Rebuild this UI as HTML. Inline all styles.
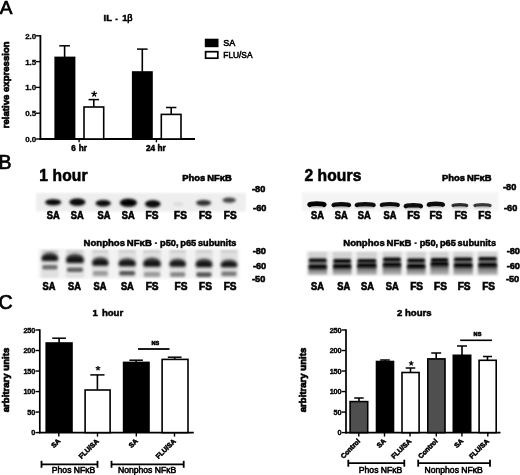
<!DOCTYPE html>
<html><head><meta charset="utf-8"><style>
html,body{margin:0;padding:0;background:#fff;width:520px;height:475px;overflow:hidden}
svg{display:block;font-family:"Liberation Sans", sans-serif}
</style></head><body>
<svg width="520" height="475" viewBox="0 0 520 475">
<defs><filter id="gb" x="0" y="0" width="100%" height="100%" filterUnits="userSpaceOnUse"><feGaussianBlur stdDeviation="0.3"/></filter></defs>
<rect x="0" y="0" width="520" height="475" fill="#fff"/>
<g filter="url(#gb)">
<rect x="0" y="0" width="520" height="475" fill="#fff"/>
<text x="-0.3" y="13.6" font-size="19" font-weight="normal" text-anchor="start" stroke="#000" stroke-width="0.7" >A</text>
<text x="103.6" y="21.4" font-size="9.4" font-weight="bold" text-anchor="start" stroke="#000" stroke-width="0.5" >IL</text>
<rect x="115.4" y="18.6" width="2.3" height="1.6" fill="#000"/>
<text x="122.3" y="21.4" font-size="9.4" font-weight="bold" text-anchor="start" stroke="#000" stroke-width="0.5" >1</text>
<text x="127.3" y="21.4" font-size="9.1" font-weight="normal" text-anchor="start" stroke="#000" stroke-width="0.65" >&#946;</text>
<line x1="40.4" y1="35.099999999999994" x2="40.4" y2="139.9" stroke="#000" stroke-width="1.8"/>
<line x1="39.5" y1="139.0" x2="195.0" y2="139.0" stroke="#000" stroke-width="1.8"/>
<line x1="36.0" y1="139.0" x2="40.4" y2="139.0" stroke="#000" stroke-width="1.4"/>
<text x="36.1" y="142.0" font-size="8.0" font-weight="bold" text-anchor="end" stroke="#000" stroke-width="0.30000000000000004" letter-spacing="-0.1" >0.0</text>
<line x1="36.0" y1="113.2" x2="40.4" y2="113.2" stroke="#000" stroke-width="1.4"/>
<text x="36.1" y="116.2" font-size="8.0" font-weight="bold" text-anchor="end" stroke="#000" stroke-width="0.30000000000000004" letter-spacing="-0.1" >0.5</text>
<line x1="36.0" y1="87.4" x2="40.4" y2="87.4" stroke="#000" stroke-width="1.4"/>
<text x="36.1" y="90.4" font-size="8.0" font-weight="bold" text-anchor="end" stroke="#000" stroke-width="0.30000000000000004" letter-spacing="-0.1" >1.0</text>
<line x1="36.0" y1="61.599999999999994" x2="40.4" y2="61.599999999999994" stroke="#000" stroke-width="1.4"/>
<text x="36.1" y="64.6" font-size="8.0" font-weight="bold" text-anchor="end" stroke="#000" stroke-width="0.30000000000000004" letter-spacing="-0.1" >1.5</text>
<line x1="36.0" y1="35.8" x2="40.4" y2="35.8" stroke="#000" stroke-width="1.4"/>
<text x="36.1" y="38.8" font-size="8.0" font-weight="bold" text-anchor="end" stroke="#000" stroke-width="0.30000000000000004" letter-spacing="-0.1" >2.0</text>
<line x1="64.6" y1="45.8" x2="64.6" y2="57.1" stroke="#000" stroke-width="1.6"/>
<line x1="59.3" y1="45.8" x2="69.89999999999999" y2="45.8" stroke="#000" stroke-width="1.5"/>
<rect x="54.4" y="56.6" width="21.000000000000007" height="82.4" fill="#000"/>
<line x1="93.8" y1="99.6" x2="93.8" y2="106.7" stroke="#000" stroke-width="1.6"/>
<line x1="88.55" y1="99.6" x2="99.05" y2="99.6" stroke="#000" stroke-width="1.5"/>
<rect x="84.0" y="107.0" width="19.699999999999996" height="31.999999999999996" fill="#fff" stroke="#000" stroke-width="1.6"/>
<line x1="142.3" y1="49.1" x2="142.3" y2="71.7" stroke="#000" stroke-width="1.6"/>
<line x1="137.0" y1="49.1" x2="147.60000000000002" y2="49.1" stroke="#000" stroke-width="1.5"/>
<rect x="131.9" y="71.2" width="20.900000000000006" height="67.8" fill="#000"/>
<line x1="171.2" y1="107.5" x2="171.2" y2="114.1" stroke="#000" stroke-width="1.6"/>
<line x1="166.0" y1="107.5" x2="176.39999999999998" y2="107.5" stroke="#000" stroke-width="1.5"/>
<rect x="161.3" y="114.39999999999999" width="19.70000000000001" height="24.600000000000005" fill="#fff" stroke="#000" stroke-width="1.6"/>
<path d="M94.20 94.00L94.20 91.50M94.20 94.00L96.58 93.23M94.20 94.00L95.67 96.02M94.20 94.00L92.73 96.02M94.20 94.00L91.82 93.23" stroke="#000" stroke-width="1.3" stroke-linecap="round" fill="none"/>
<line x1="79.1" y1="139.0" x2="79.1" y2="142.3" stroke="#000" stroke-width="1.4"/>
<line x1="156.4" y1="139.0" x2="156.4" y2="142.3" stroke="#000" stroke-width="1.4"/>
<text x="71.3" y="150.7" font-size="8.2" font-weight="bold" text-anchor="start" stroke="#000" stroke-width="0.5" word-spacing="0.7">6 hr</text>
<text x="145.9" y="150.7" font-size="8.2" font-weight="bold" text-anchor="start" stroke="#000" stroke-width="0.5" word-spacing="0.3">24 hr</text>
<text x="0" y="0" font-size="9.6" font-weight="bold" text-anchor="middle" stroke="#000" stroke-width="0.7" transform="translate(8.7 84.8) rotate(-90)">relative expression</text>
<rect x="204.8" y="38.7" width="13.7" height="8.5" fill="#000"/>
<rect x="205.6" y="51.7" width="12.2" height="6.5" fill="#fff" stroke="#000" stroke-width="1.7"/>
<text x="223.2" y="45.8" font-size="9" font-weight="normal" text-anchor="start" stroke="#000" stroke-width="0.55" >SA</text>
<text x="223.3" y="58.1" font-size="9" font-weight="normal" text-anchor="start" stroke="#000" stroke-width="0.55" textLength="29.2" lengthAdjust="spacingAndGlyphs" >FLU/SA</text>
<text x="-1.5" y="169" font-size="19.5" font-weight="normal" text-anchor="start" stroke="#000" stroke-width="0.7" >B</text>
<text x="39.2" y="181" font-size="15.6" font-weight="bold" text-anchor="start" stroke="#000" stroke-width="0.55" letter-spacing="0.15" >1 hour</text>
<text x="304.4" y="181" font-size="15.6" font-weight="bold" text-anchor="start" stroke="#000" stroke-width="0.55" letter-spacing="0.1" >2 hours</text>
<text x="182.2" y="180.8" font-size="9.7" font-weight="bold" text-anchor="start" stroke="#000" stroke-width="0.6000000000000001" textLength="49.6" lengthAdjust="spacingAndGlyphs" word-spacing="-0.6">Phos NF&#954;B</text>
<text x="442.0" y="180.8" font-size="9.7" font-weight="bold" text-anchor="start" stroke="#000" stroke-width="0.6000000000000001" textLength="49.6" lengthAdjust="spacingAndGlyphs" word-spacing="-0.6">Phos NF&#954;B</text>
<text x="83.6" y="245.8" font-size="9.3" font-weight="bold" text-anchor="start" stroke="#000" stroke-width="0.5" textLength="68.2" lengthAdjust="spacingAndGlyphs" word-spacing="-0.8">Nonphos NF&#954;B</text>
<rect x="154.8" y="242.4" width="2.2" height="1.4" fill="#000"/>
<text x="160.0" y="245.8" font-size="9.3" font-weight="bold" text-anchor="start" stroke="#000" stroke-width="0.5" textLength="76.4" lengthAdjust="spacingAndGlyphs" word-spacing="-0.8">p50, p65 subunits</text>
<text x="343.29999999999995" y="245.8" font-size="9.3" font-weight="bold" text-anchor="start" stroke="#000" stroke-width="0.5" textLength="68.2" lengthAdjust="spacingAndGlyphs" word-spacing="-0.8">Nonphos NF&#954;B</text>
<rect x="414.5" y="242.4" width="2.2" height="1.4" fill="#000"/>
<text x="419.7" y="245.8" font-size="9.3" font-weight="bold" text-anchor="start" stroke="#000" stroke-width="0.5" textLength="76.4" lengthAdjust="spacingAndGlyphs" word-spacing="-0.8">p50, p65 subunits</text>
<text x="252.0" y="191.6" font-size="9.2" font-weight="bold" text-anchor="start" stroke="#000" stroke-width="0.55" >-80</text>
<text x="253.1" y="211.4" font-size="9.2" font-weight="bold" text-anchor="start" stroke="#000" stroke-width="0.55" >-60</text>
<text x="503.0" y="190.3" font-size="9.2" font-weight="bold" text-anchor="start" stroke="#000" stroke-width="0.55" >-80</text>
<text x="504.0" y="211.4" font-size="9.2" font-weight="bold" text-anchor="start" stroke="#000" stroke-width="0.55" >-60</text>
<text x="252.7" y="254.0" font-size="9.2" font-weight="bold" text-anchor="start" stroke="#000" stroke-width="0.55" >-80</text>
<text x="252.89999999999998" y="269.2" font-size="9.2" font-weight="bold" text-anchor="start" stroke="#000" stroke-width="0.55" >-60</text>
<text x="252.0" y="281.6" font-size="9.2" font-weight="bold" text-anchor="start" stroke="#000" stroke-width="0.55" >-50</text>
<text x="506.7" y="253.7" font-size="9.2" font-weight="bold" text-anchor="start" stroke="#000" stroke-width="0.55" >-80</text>
<text x="506.7" y="268.8" font-size="9.2" font-weight="bold" text-anchor="start" stroke="#000" stroke-width="0.55" >-60</text>
<text x="505.9" y="281.8" font-size="9.2" font-weight="bold" text-anchor="start" stroke="#000" stroke-width="0.55" >-50</text>
<defs><filter id="b1" filterUnits="userSpaceOnUse" x="0" y="0" width="520" height="475"><feGaussianBlur stdDeviation="1.3"/></filter><filter id="b15" filterUnits="userSpaceOnUse" x="0" y="0" width="520" height="475"><feGaussianBlur stdDeviation="1.6"/></filter><filter id="b06" filterUnits="userSpaceOnUse" x="0" y="0" width="520" height="475"><feGaussianBlur stdDeviation="0.6"/></filter><filter id="b2" filterUnits="userSpaceOnUse" x="0" y="0" width="520" height="475"><feGaussianBlur stdDeviation="0.8"/></filter><filter id="bs" filterUnits="userSpaceOnUse" x="0" y="0" width="520" height="475"><feGaussianBlur stdDeviation="1.0"/></filter><filter id="bl" filterUnits="userSpaceOnUse" x="0" y="0" width="520" height="475"><feGaussianBlur stdDeviation="1.5"/></filter></defs>
<rect x="36" y="193" width="210" height="18.5" fill="#eeeeee" filter="url(#bs)"/>
<ellipse cx="53.2" cy="202.5" rx="8.5" ry="3.8" fill="#000" opacity="0.33249999999999996" filter="url(#b15)"/>
<ellipse cx="53.2" cy="202.2" rx="7.7" ry="2.8000000000000003" fill="#000" opacity="0.95" filter="url(#b1)"/>
<ellipse cx="77.4" cy="202.4" rx="8.5" ry="4.4" fill="#000" opacity="0.33249999999999996" filter="url(#b15)"/>
<ellipse cx="77.4" cy="202.1" rx="7.7" ry="3.4000000000000004" fill="#000" opacity="0.95" filter="url(#b1)"/>
<ellipse cx="103.2" cy="203.5" rx="8.0" ry="4.0" fill="#000" opacity="0.322" filter="url(#b15)"/>
<ellipse cx="103.2" cy="203.2" rx="7.2" ry="3.0" fill="#000" opacity="0.92" filter="url(#b1)"/>
<ellipse cx="128.4" cy="203.0" rx="9.0" ry="4.8" fill="#000" opacity="0.33949999999999997" filter="url(#b15)"/>
<ellipse cx="128.4" cy="202.7" rx="8.2" ry="3.8000000000000003" fill="#000" opacity="0.97" filter="url(#b1)"/>
<ellipse cx="152.8" cy="204.2" rx="8.2" ry="4.4" fill="#000" opacity="0.33249999999999996" filter="url(#b15)"/>
<ellipse cx="152.8" cy="203.9" rx="7.4" ry="3.4000000000000004" fill="#000" opacity="0.95" filter="url(#b1)"/>
<ellipse cx="178.2" cy="204.2" rx="6.0" ry="3.0" fill="#000" opacity="0.017499999999999998" filter="url(#b15)"/>
<ellipse cx="178.2" cy="203.9" rx="5.2" ry="2.0" fill="#000" opacity="0.05" filter="url(#b1)"/>
<ellipse cx="203.6" cy="203.1" rx="8.0" ry="3.5999999999999996" fill="#000" opacity="0.252" filter="url(#b15)"/>
<ellipse cx="203.6" cy="202.8" rx="7.2" ry="2.6" fill="#000" opacity="0.72" filter="url(#b1)"/>
<ellipse cx="229.2" cy="200.4" rx="7.2" ry="3.4000000000000004" fill="#000" opacity="0.217" filter="url(#b15)"/>
<ellipse cx="229.2" cy="200.1" rx="6.4" ry="2.4000000000000004" fill="#000" opacity="0.62" filter="url(#b1)"/>
<text x="53.15" y="219.0" font-size="10.4" font-weight="bold" text-anchor="middle" stroke="#000" stroke-width="0.65" textLength="12.9" lengthAdjust="spacingAndGlyphs" >SA</text>
<text x="77.3" y="219.0" font-size="10.4" font-weight="bold" text-anchor="middle" stroke="#000" stroke-width="0.65" textLength="12.9" lengthAdjust="spacingAndGlyphs" >SA</text>
<text x="103.95" y="219.0" font-size="10.4" font-weight="bold" text-anchor="middle" stroke="#000" stroke-width="0.65" textLength="12.9" lengthAdjust="spacingAndGlyphs" >SA</text>
<text x="128.15" y="219.0" font-size="10.4" font-weight="bold" text-anchor="middle" stroke="#000" stroke-width="0.65" textLength="12.9" lengthAdjust="spacingAndGlyphs" >SA</text>
<text x="152.05" y="219.0" font-size="10.4" font-weight="bold" text-anchor="middle" stroke="#000" stroke-width="0.65" textLength="12.9" lengthAdjust="spacingAndGlyphs" >FS</text>
<text x="180.55" y="219.0" font-size="10.4" font-weight="bold" text-anchor="middle" stroke="#000" stroke-width="0.65" textLength="12.9" lengthAdjust="spacingAndGlyphs" >FS</text>
<text x="205.35" y="219.0" font-size="10.4" font-weight="bold" text-anchor="middle" stroke="#000" stroke-width="0.65" textLength="12.9" lengthAdjust="spacingAndGlyphs" >FS</text>
<text x="230.2" y="219.0" font-size="10.4" font-weight="bold" text-anchor="middle" stroke="#000" stroke-width="0.65" textLength="12.9" lengthAdjust="spacingAndGlyphs" >FS</text>
<rect x="302" y="192.2" width="196.5" height="18.8" fill="#f4f4f4" filter="url(#bs)"/>
<path d="M309.6 204.6 C310.4 203.4 323.4 203.4 324.2 204.6" stroke="#000" stroke-width="4.8" stroke-linecap="round" fill="none" opacity="0.98" filter="url(#b06)"/>
<rect x="309.3" y="203.8" width="15.2" height="3.2" fill="#000" opacity="0.39" filter="url(#b1)"/>
<path d="M333.5 205.1 C334.3 203.9 348.3 203.9 349.1 205.1" stroke="#000" stroke-width="4.2" stroke-linecap="round" fill="none" opacity="0.96" filter="url(#b06)"/>
<rect x="333.2" y="204.3" width="16.2" height="3.2" fill="#000" opacity="0.38" filter="url(#b1)"/>
<path d="M356.7 205.1 C357.5 203.9 372.9 203.9 373.7 205.1" stroke="#000" stroke-width="4.2" stroke-linecap="round" fill="none" opacity="0.94" filter="url(#b06)"/>
<rect x="356.4" y="204.3" width="17.6" height="3.2" fill="#000" opacity="0.38" filter="url(#b1)"/>
<path d="M381.8 204.9 C382.6 203.7 397.0 203.7 397.8 204.9" stroke="#000" stroke-width="4.2" stroke-linecap="round" fill="none" opacity="0.94" filter="url(#b06)"/>
<rect x="381.5" y="204.1" width="16.6" height="3.2" fill="#000" opacity="0.38" filter="url(#b1)"/>
<path d="M405.8 206.1 C406.6 204.9 420.1 204.9 420.9 206.1" stroke="#000" stroke-width="4.4" stroke-linecap="round" fill="none" opacity="0.95" filter="url(#b06)"/>
<rect x="405.4" y="205.3" width="15.7" height="3.2" fill="#000" opacity="0.38" filter="url(#b1)"/>
<path d="M428.8 204.7 C429.6 203.5 442.1 203.5 442.9 204.7" stroke="#000" stroke-width="4.4" stroke-linecap="round" fill="none" opacity="0.93" filter="url(#b06)"/>
<rect x="428.5" y="203.9" width="14.7" height="3.2" fill="#000" opacity="0.37" filter="url(#b1)"/>
<path d="M453.1 205.5 C453.9 204.3 465.9 204.3 466.7 205.5" stroke="#000" stroke-width="3.3" stroke-linecap="round" fill="none" opacity="0.78" filter="url(#b06)"/>
<rect x="452.8" y="204.7" width="14.2" height="3.2" fill="#000" opacity="0.31" filter="url(#b1)"/>
<path d="M475.0 205.5 C475.8 204.3 489.2 204.3 490.0 205.5" stroke="#000" stroke-width="3.3" stroke-linecap="round" fill="none" opacity="0.72" filter="url(#b06)"/>
<rect x="474.7" y="204.7" width="15.6" height="3.2" fill="#000" opacity="0.29" filter="url(#b1)"/>
<text x="317.5" y="219.0" font-size="10.4" font-weight="bold" text-anchor="middle" stroke="#000" stroke-width="0.65" textLength="12.9" lengthAdjust="spacingAndGlyphs" >SA</text>
<text x="341.25" y="219.0" font-size="10.4" font-weight="bold" text-anchor="middle" stroke="#000" stroke-width="0.65" textLength="12.9" lengthAdjust="spacingAndGlyphs" >SA</text>
<text x="364.15" y="219.0" font-size="10.4" font-weight="bold" text-anchor="middle" stroke="#000" stroke-width="0.65" textLength="12.9" lengthAdjust="spacingAndGlyphs" >SA</text>
<text x="390.05" y="219.0" font-size="10.4" font-weight="bold" text-anchor="middle" stroke="#000" stroke-width="0.65" textLength="12.9" lengthAdjust="spacingAndGlyphs" >SA</text>
<text x="413.65" y="219.0" font-size="10.4" font-weight="bold" text-anchor="middle" stroke="#000" stroke-width="0.65" textLength="12.9" lengthAdjust="spacingAndGlyphs" >FS</text>
<text x="435.85" y="219.0" font-size="10.4" font-weight="bold" text-anchor="middle" stroke="#000" stroke-width="0.65" textLength="12.9" lengthAdjust="spacingAndGlyphs" >FS</text>
<text x="460.85" y="219.0" font-size="10.4" font-weight="bold" text-anchor="middle" stroke="#000" stroke-width="0.65" textLength="12.9" lengthAdjust="spacingAndGlyphs" >FS</text>
<text x="484.8" y="219.0" font-size="10.4" font-weight="bold" text-anchor="middle" stroke="#000" stroke-width="0.65" textLength="12.9" lengthAdjust="spacingAndGlyphs" >FS</text>
<defs><linearGradient id="dome" x1="0" y1="0" x2="0" y2="1"><stop offset="0" stop-color="#000" stop-opacity="0.6"/><stop offset="0.55" stop-color="#000" stop-opacity="0.9"/><stop offset="1" stop-color="#000" stop-opacity="0.97"/></linearGradient></defs>
<rect x="38.5" y="249" width="201" height="29.5" fill="#f2f2f2" filter="url(#bs)"/>
<rect x="41.2" y="250" width="17.3" height="28" fill="#000" opacity="0.07" filter="url(#b2)"/>
<rect x="42.2" y="250.6" width="15.3" height="1.6" fill="#000" opacity="0.12" filter="url(#b2)"/>
<path d="M41.5 257.7 A8.4 6.0 0 0 1 58.2 257.7 L58.2 259.0 Q58.2 261.0 56.2 261.0 L43.5 261.0 Q41.5 261.0 41.5 259.0 Z" fill="url(#dome)" filter="url(#b15)"/>
<rect x="42.2" y="264.9" width="15.3" height="4.6" rx="2.3" fill="#000" opacity="0.50" filter="url(#b1)"/>
<rect x="65.8" y="250" width="18.3" height="28" fill="#000" opacity="0.07" filter="url(#b2)"/>
<rect x="66.8" y="250.6" width="16.3" height="1.6" fill="#000" opacity="0.12" filter="url(#b2)"/>
<path d="M66.1 259.6 A8.9 6.0 0 0 1 83.9 259.6 L83.9 260.9 Q83.9 262.9 81.9 262.9 L68.1 262.9 Q66.1 262.9 66.1 260.9 Z" fill="url(#dome)" filter="url(#b15)"/>
<rect x="66.8" y="267.5" width="16.3" height="4.6" rx="2.3" fill="#000" opacity="0.55" filter="url(#b1)"/>
<rect x="91.8" y="250" width="17" height="28" fill="#000" opacity="0.07" filter="url(#b2)"/>
<rect x="92.8" y="250.6" width="15" height="1.6" fill="#000" opacity="0.12" filter="url(#b2)"/>
<path d="M92.1 262.7 A8.2 5.8 0 0 1 108.5 262.7 L108.5 263.8 Q108.5 265.8 106.5 265.8 L94.1 265.8 Q92.1 265.8 92.1 263.8 Z" fill="url(#dome)" filter="url(#b15)"/>
<rect x="92.8" y="271.1" width="15.0" height="4.6" rx="2.3" fill="#000" opacity="0.30" filter="url(#b1)"/>
<rect x="118.3" y="250" width="17.8" height="28" fill="#000" opacity="0.07" filter="url(#b2)"/>
<rect x="119.3" y="250.6" width="15.8" height="1.6" fill="#000" opacity="0.12" filter="url(#b2)"/>
<path d="M118.6 263.4 A8.6 5.5 0 0 1 135.8 263.4 L135.8 264.3 Q135.8 266.3 133.8 266.3 L120.6 266.3 Q118.6 266.3 118.6 264.3 Z" fill="url(#dome)" filter="url(#b15)"/>
<rect x="119.3" y="270.9" width="15.8" height="4.6" rx="2.3" fill="#000" opacity="0.60" filter="url(#b1)"/>
<rect x="142.8" y="250" width="18.3" height="28" fill="#000" opacity="0.07" filter="url(#b2)"/>
<rect x="143.8" y="250.6" width="16.3" height="1.6" fill="#000" opacity="0.12" filter="url(#b2)"/>
<path d="M143.2 263.5 A8.8 6.1 0 0 1 160.8 263.5 L160.8 264.8 Q160.8 266.8 158.8 266.8 L145.2 266.8 Q143.2 266.8 143.2 264.8 Z" fill="url(#dome)" filter="url(#b15)"/>
<rect x="143.8" y="272.1" width="16.3" height="4.6" rx="2.3" fill="#000" opacity="0.30" filter="url(#b1)"/>
<rect x="169.2" y="250" width="17" height="28" fill="#000" opacity="0.07" filter="url(#b2)"/>
<rect x="170.2" y="250.6" width="15" height="1.6" fill="#000" opacity="0.12" filter="url(#b2)"/>
<path d="M169.5 263.9 A8.2 5.5 0 0 1 185.9 263.9 L185.9 264.8 Q185.9 266.8 183.9 266.8 L171.5 266.8 Q169.5 266.8 169.5 264.8 Z" fill="url(#dome)" filter="url(#b15)"/>
<rect x="170.2" y="272.2" width="15.0" height="4.6" rx="2.3" fill="#000" opacity="0.40" filter="url(#b1)"/>
<rect x="195.3" y="250" width="17.3" height="28" fill="#000" opacity="0.07" filter="url(#b2)"/>
<rect x="196.3" y="250.6" width="15.3" height="1.6" fill="#000" opacity="0.12" filter="url(#b2)"/>
<path d="M195.7 264.1 A8.3 5.7 0 0 1 212.3 264.1 L212.3 265.2 Q212.3 267.2 210.3 267.2 L197.7 267.2 Q195.7 267.2 195.7 265.2 Z" fill="url(#dome)" filter="url(#b15)"/>
<rect x="196.3" y="272.3" width="15.3" height="4.6" rx="2.3" fill="#000" opacity="0.60" filter="url(#b1)"/>
<rect x="220.3" y="250" width="17.3" height="28" fill="#000" opacity="0.07" filter="url(#b2)"/>
<rect x="221.3" y="250.6" width="15.3" height="1.6" fill="#000" opacity="0.12" filter="url(#b2)"/>
<path d="M220.7 264.5 A8.3 5.1 0 0 1 237.3 264.5 L237.3 265.2 Q237.3 267.2 235.3 267.2 L222.7 267.2 Q220.7 267.2 220.7 265.2 Z" fill="url(#dome)" filter="url(#b15)"/>
<rect x="221.3" y="271.4" width="15.3" height="4.6" rx="2.3" fill="#000" opacity="0.45" filter="url(#b1)"/>
<text x="49.05" y="290.0" font-size="10.4" font-weight="bold" text-anchor="middle" stroke="#000" stroke-width="0.65" textLength="12.9" lengthAdjust="spacingAndGlyphs" >SA</text>
<text x="74.55" y="290.0" font-size="10.4" font-weight="bold" text-anchor="middle" stroke="#000" stroke-width="0.65" textLength="12.9" lengthAdjust="spacingAndGlyphs" >SA</text>
<text x="100.05" y="290.0" font-size="10.4" font-weight="bold" text-anchor="middle" stroke="#000" stroke-width="0.65" textLength="12.9" lengthAdjust="spacingAndGlyphs" >SA</text>
<text x="127.35" y="290.0" font-size="10.4" font-weight="bold" text-anchor="middle" stroke="#000" stroke-width="0.65" textLength="12.9" lengthAdjust="spacingAndGlyphs" >SA</text>
<text x="152.15" y="290.0" font-size="10.4" font-weight="bold" text-anchor="middle" stroke="#000" stroke-width="0.65" textLength="12.9" lengthAdjust="spacingAndGlyphs" >FS</text>
<text x="180.95" y="290.0" font-size="10.4" font-weight="bold" text-anchor="middle" stroke="#000" stroke-width="0.65" textLength="12.9" lengthAdjust="spacingAndGlyphs" >FS</text>
<text x="205.5" y="290.0" font-size="10.4" font-weight="bold" text-anchor="middle" stroke="#000" stroke-width="0.65" textLength="12.9" lengthAdjust="spacingAndGlyphs" >FS</text>
<text x="230.15" y="290.0" font-size="10.4" font-weight="bold" text-anchor="middle" stroke="#000" stroke-width="0.65" textLength="12.9" lengthAdjust="spacingAndGlyphs" >FS</text>
<defs><linearGradient id="sm" x1="0" y1="0" x2="0" y2="1"><stop offset="0" stop-color="#000" stop-opacity="0.7"/><stop offset="0.5" stop-color="#000" stop-opacity="0.35"/><stop offset="1" stop-color="#000" stop-opacity="0.08"/></linearGradient></defs>
<rect x="306" y="251" width="193" height="25" fill="#f0f0f0" filter="url(#bs)"/>
<rect x="308.2" y="251.8" width="19" height="23" fill="#000" opacity="0.12" filter="url(#b2)"/>
<rect x="308.5" y="267.0" width="18.4" height="8.0" fill="url(#sm)" filter="url(#b2)"/>
<rect x="308.7" y="258.4" width="18" height="3.8" rx="1.8" fill="#000" opacity="0.95" filter="url(#b2)"/>
<rect x="308.5" y="264.5" width="18.4" height="4.0" rx="1.9" fill="#000" opacity="0.97" filter="url(#b2)"/>
<rect x="308.7" y="261.5" width="18" height="3.8" fill="#000" opacity="0.35" filter="url(#b2)"/>
<rect x="332.7" y="251.8" width="19" height="23" fill="#000" opacity="0.12" filter="url(#b2)"/>
<rect x="333.0" y="266.5" width="18.4" height="8.5" fill="url(#sm)" filter="url(#b2)"/>
<rect x="333.2" y="259.1" width="18" height="3.8" rx="1.8" fill="#000" opacity="0.95" filter="url(#b2)"/>
<rect x="333.0" y="264.0" width="18.4" height="4.0" rx="1.9" fill="#000" opacity="0.97" filter="url(#b2)"/>
<rect x="333.2" y="262.2" width="18" height="2.6" fill="#000" opacity="0.35" filter="url(#b2)"/>
<rect x="356.8" y="251.8" width="20" height="23" fill="#000" opacity="0.12" filter="url(#b2)"/>
<rect x="357.1" y="265.8" width="19.4" height="9.2" fill="url(#sm)" filter="url(#b2)"/>
<rect x="357.3" y="258.9" width="19" height="3.8" rx="1.8" fill="#000" opacity="0.95" filter="url(#b2)"/>
<rect x="357.1" y="263.3" width="19.4" height="4.0" rx="1.9" fill="#000" opacity="0.97" filter="url(#b2)"/>
<rect x="357.3" y="262.0" width="19" height="2.1" fill="#000" opacity="0.35" filter="url(#b2)"/>
<rect x="382.5" y="251.8" width="19" height="23" fill="#000" opacity="0.12" filter="url(#b2)"/>
<rect x="382.8" y="265.0" width="18.4" height="10.0" fill="url(#sm)" filter="url(#b2)"/>
<rect x="383.0" y="257.6" width="18" height="3.8" rx="1.8" fill="#000" opacity="0.95" filter="url(#b2)"/>
<rect x="382.8" y="262.5" width="18.4" height="4.0" rx="1.9" fill="#000" opacity="0.97" filter="url(#b2)"/>
<rect x="383.0" y="260.7" width="18" height="2.6" fill="#000" opacity="0.35" filter="url(#b2)"/>
<rect x="406.7" y="251.8" width="19" height="23" fill="#000" opacity="0.12" filter="url(#b2)"/>
<rect x="407.0" y="266.6" width="18.4" height="8.4" fill="url(#sm)" filter="url(#b2)"/>
<rect x="407.2" y="258.6" width="18" height="3.8" rx="1.8" fill="#000" opacity="0.95" filter="url(#b2)"/>
<rect x="407.0" y="264.1" width="18.4" height="4.0" rx="1.9" fill="#000" opacity="0.97" filter="url(#b2)"/>
<rect x="407.2" y="261.7" width="18" height="3.2" fill="#000" opacity="0.35" filter="url(#b2)"/>
<rect x="430.2" y="251.8" width="18.5" height="23" fill="#000" opacity="0.12" filter="url(#b2)"/>
<rect x="430.6" y="264.3" width="17.9" height="10.7" fill="url(#sm)" filter="url(#b2)"/>
<rect x="430.8" y="258.1" width="17.5" height="3.8" rx="1.8" fill="#000" opacity="0.95" filter="url(#b2)"/>
<rect x="430.6" y="261.8" width="17.9" height="4.0" rx="1.9" fill="#000" opacity="0.97" filter="url(#b2)"/>
<rect x="430.8" y="261.2" width="17.5" height="1.4" fill="#000" opacity="0.35" filter="url(#b2)"/>
<rect x="453.4" y="251.8" width="19.5" height="23" fill="#000" opacity="0.12" filter="url(#b2)"/>
<rect x="453.8" y="265.5" width="18.9" height="9.5" fill="url(#sm)" filter="url(#b2)"/>
<rect x="453.9" y="257.4" width="18.5" height="3.8" rx="1.8" fill="#000" opacity="0.95" filter="url(#b2)"/>
<rect x="453.8" y="263.0" width="18.9" height="4.0" rx="1.9" fill="#000" opacity="0.97" filter="url(#b2)"/>
<rect x="453.9" y="260.5" width="18.5" height="3.3" fill="#000" opacity="0.35" filter="url(#b2)"/>
<rect x="477.9" y="251.8" width="19.5" height="23" fill="#000" opacity="0.12" filter="url(#b2)"/>
<rect x="478.2" y="265.3" width="18.9" height="9.7" fill="url(#sm)" filter="url(#b2)"/>
<rect x="478.4" y="256.9" width="18.5" height="3.8" rx="1.8" fill="#000" opacity="0.95" filter="url(#b2)"/>
<rect x="478.2" y="262.8" width="18.9" height="4.0" rx="1.9" fill="#000" opacity="0.97" filter="url(#b2)"/>
<rect x="478.4" y="260.0" width="18.5" height="3.6" fill="#000" opacity="0.35" filter="url(#b2)"/>
<text x="317.5" y="290.0" font-size="10.4" font-weight="bold" text-anchor="middle" stroke="#000" stroke-width="0.65" textLength="12.9" lengthAdjust="spacingAndGlyphs" >SA</text>
<text x="343.75" y="290.0" font-size="10.4" font-weight="bold" text-anchor="middle" stroke="#000" stroke-width="0.65" textLength="12.9" lengthAdjust="spacingAndGlyphs" >SA</text>
<text x="367.5" y="290.0" font-size="10.4" font-weight="bold" text-anchor="middle" stroke="#000" stroke-width="0.65" textLength="12.9" lengthAdjust="spacingAndGlyphs" >SA</text>
<text x="392.3" y="290.0" font-size="10.4" font-weight="bold" text-anchor="middle" stroke="#000" stroke-width="0.65" textLength="12.9" lengthAdjust="spacingAndGlyphs" >SA</text>
<text x="416.65" y="290.0" font-size="10.4" font-weight="bold" text-anchor="middle" stroke="#000" stroke-width="0.65" textLength="12.9" lengthAdjust="spacingAndGlyphs" >FS</text>
<text x="440.55" y="290.0" font-size="10.4" font-weight="bold" text-anchor="middle" stroke="#000" stroke-width="0.65" textLength="12.9" lengthAdjust="spacingAndGlyphs" >FS</text>
<text x="464.15" y="290.0" font-size="10.4" font-weight="bold" text-anchor="middle" stroke="#000" stroke-width="0.65" textLength="12.9" lengthAdjust="spacingAndGlyphs" >FS</text>
<text x="488.65" y="290.0" font-size="10.4" font-weight="bold" text-anchor="middle" stroke="#000" stroke-width="0.65" textLength="12.9" lengthAdjust="spacingAndGlyphs" >FS</text>
<text x="-1.6" y="309" font-size="19.5" font-weight="normal" text-anchor="start" stroke="#000" stroke-width="0.7" >C</text>
<text x="92.6" y="316.0" font-size="9.6" font-weight="bold" text-anchor="start" stroke="#000" stroke-width="0.5" word-spacing="1.3">1 hour</text>
<text x="414.3" y="316.0" font-size="9.6" font-weight="bold" text-anchor="middle" stroke="#000" stroke-width="0.5" >2 hours</text>
<line x1="39.8" y1="329.3" x2="39.8" y2="433.40000000000003" stroke="#000" stroke-width="1.7"/>
<line x1="39.0" y1="432.6" x2="193.8" y2="432.6" stroke="#000" stroke-width="1.7"/>
<line x1="35.5" y1="432.6" x2="39.8" y2="432.6" stroke="#000" stroke-width="1.4"/>
<text x="35.199999999999996" y="435.3" font-size="7.3" font-weight="bold" text-anchor="end" stroke="#000" stroke-width="0.35" letter-spacing="-0.15" >0</text>
<line x1="35.5" y1="412.08000000000004" x2="39.8" y2="412.08000000000004" stroke="#000" stroke-width="1.4"/>
<text x="35.199999999999996" y="414.78000000000003" font-size="7.3" font-weight="bold" text-anchor="end" stroke="#000" stroke-width="0.35" letter-spacing="-0.15" >50</text>
<line x1="35.5" y1="391.56" x2="39.8" y2="391.56" stroke="#000" stroke-width="1.4"/>
<text x="35.199999999999996" y="394.26" font-size="7.3" font-weight="bold" text-anchor="end" stroke="#000" stroke-width="0.35" letter-spacing="-0.15" >100</text>
<line x1="35.5" y1="371.04" x2="39.8" y2="371.04" stroke="#000" stroke-width="1.4"/>
<text x="35.199999999999996" y="373.74" font-size="7.3" font-weight="bold" text-anchor="end" stroke="#000" stroke-width="0.35" letter-spacing="-0.15" >150</text>
<line x1="35.5" y1="350.52" x2="39.8" y2="350.52" stroke="#000" stroke-width="1.4"/>
<text x="35.199999999999996" y="353.21999999999997" font-size="7.3" font-weight="bold" text-anchor="end" stroke="#000" stroke-width="0.35" letter-spacing="-0.15" >200</text>
<line x1="35.5" y1="330.0" x2="39.8" y2="330.0" stroke="#000" stroke-width="1.4"/>
<text x="35.199999999999996" y="332.7" font-size="7.3" font-weight="bold" text-anchor="end" stroke="#000" stroke-width="0.35" letter-spacing="-0.15" >250</text>
<line x1="58.8" y1="432.6" x2="58.8" y2="436.6" stroke="#000" stroke-width="1.4"/>
<line x1="97.5" y1="432.6" x2="97.5" y2="436.6" stroke="#000" stroke-width="1.4"/>
<line x1="136.3" y1="432.6" x2="136.3" y2="436.6" stroke="#000" stroke-width="1.4"/>
<line x1="174.5" y1="432.6" x2="174.5" y2="436.6" stroke="#000" stroke-width="1.4"/>
<text x="0" y="0" font-size="9.6" font-weight="bold" text-anchor="middle" stroke="#000" stroke-width="0.7" transform="translate(9.3 380.0) rotate(-90)">arbitrary units</text>
<line x1="346.0" y1="329.3" x2="346.0" y2="433.40000000000003" stroke="#000" stroke-width="1.7"/>
<line x1="345.2" y1="432.6" x2="500.5" y2="432.6" stroke="#000" stroke-width="1.7"/>
<line x1="341.7" y1="432.6" x2="346.0" y2="432.6" stroke="#000" stroke-width="1.4"/>
<text x="341.4" y="435.3" font-size="7.3" font-weight="bold" text-anchor="end" stroke="#000" stroke-width="0.35" letter-spacing="-0.15" >0</text>
<line x1="341.7" y1="412.08000000000004" x2="346.0" y2="412.08000000000004" stroke="#000" stroke-width="1.4"/>
<text x="341.4" y="414.78000000000003" font-size="7.3" font-weight="bold" text-anchor="end" stroke="#000" stroke-width="0.35" letter-spacing="-0.15" >50</text>
<line x1="341.7" y1="391.56" x2="346.0" y2="391.56" stroke="#000" stroke-width="1.4"/>
<text x="341.4" y="394.26" font-size="7.3" font-weight="bold" text-anchor="end" stroke="#000" stroke-width="0.35" letter-spacing="-0.15" >100</text>
<line x1="341.7" y1="371.04" x2="346.0" y2="371.04" stroke="#000" stroke-width="1.4"/>
<text x="341.4" y="373.74" font-size="7.3" font-weight="bold" text-anchor="end" stroke="#000" stroke-width="0.35" letter-spacing="-0.15" >150</text>
<line x1="341.7" y1="350.52" x2="346.0" y2="350.52" stroke="#000" stroke-width="1.4"/>
<text x="341.4" y="353.21999999999997" font-size="7.3" font-weight="bold" text-anchor="end" stroke="#000" stroke-width="0.35" letter-spacing="-0.15" >200</text>
<line x1="341.7" y1="330.0" x2="346.0" y2="330.0" stroke="#000" stroke-width="1.4"/>
<text x="341.4" y="332.7" font-size="7.3" font-weight="bold" text-anchor="end" stroke="#000" stroke-width="0.35" letter-spacing="-0.15" >250</text>
<line x1="358.8" y1="432.6" x2="358.8" y2="436.6" stroke="#000" stroke-width="1.4"/>
<line x1="384.5" y1="432.6" x2="384.5" y2="436.6" stroke="#000" stroke-width="1.4"/>
<line x1="410" y1="432.6" x2="410" y2="436.6" stroke="#000" stroke-width="1.4"/>
<line x1="436.3" y1="432.6" x2="436.3" y2="436.6" stroke="#000" stroke-width="1.4"/>
<line x1="461.9" y1="432.6" x2="461.9" y2="436.6" stroke="#000" stroke-width="1.4"/>
<line x1="487.8" y1="432.6" x2="487.8" y2="436.6" stroke="#000" stroke-width="1.4"/>
<text x="0" y="0" font-size="9.6" font-weight="bold" text-anchor="middle" stroke="#000" stroke-width="0.7" transform="translate(305.9 380.0) rotate(-90)">arbitrary units</text>
<line x1="59.1" y1="338.2" x2="59.1" y2="342.7" stroke="#000" stroke-width="1.6"/>
<line x1="52.25" y1="338.2" x2="65.95" y2="338.2" stroke="#000" stroke-width="1.5"/>
<rect x="45.4" y="342.2" width="27.4" height="90.40000000000003" fill="#000"/>
<line x1="97.4" y1="374.9" x2="97.4" y2="389.7" stroke="#000" stroke-width="1.6"/>
<line x1="90.30000000000001" y1="374.9" x2="104.5" y2="374.9" stroke="#000" stroke-width="1.5"/>
<rect x="85.1" y="390.0" width="25.000000000000007" height="42.60000000000004" fill="#fff" stroke="#000" stroke-width="1.6"/>
<line x1="136.15" y1="360.2" x2="136.15" y2="362.1" stroke="#000" stroke-width="1.6"/>
<line x1="129.4" y1="360.2" x2="142.9" y2="360.2" stroke="#000" stroke-width="1.5"/>
<rect x="122.8" y="361.6" width="27.000000000000014" height="71.0" fill="#000"/>
<line x1="174.7" y1="357.2" x2="174.7" y2="359.1" stroke="#000" stroke-width="1.6"/>
<line x1="167.79999999999998" y1="357.2" x2="181.6" y2="357.2" stroke="#000" stroke-width="1.5"/>
<rect x="162.10000000000002" y="359.40000000000003" width="25.9" height="73.2" fill="#fff" stroke="#000" stroke-width="1.6"/>
<path d="M98.00 368.20L98.00 366.20M98.00 368.20L99.90 367.58M98.00 368.20L99.18 369.82M98.00 368.20L96.82 369.82M98.00 368.20L96.10 367.58" stroke="#000" stroke-width="1.15" stroke-linecap="round" fill="none"/>
<text x="155.3" y="344.6" font-size="5.6" font-weight="bold" text-anchor="middle" stroke="#000" stroke-width="0.55" >NS</text>
<line x1="138" y1="349" x2="169.5" y2="349" stroke="#000" stroke-width="1.8"/>
<line x1="358.95" y1="398.0" x2="358.95" y2="401.3" stroke="#000" stroke-width="1.6"/>
<line x1="354.2" y1="398.0" x2="363.7" y2="398.0" stroke="#000" stroke-width="1.5"/>
<rect x="350.1" y="401.6" width="17.599999999999987" height="31.00000000000001" fill="#505050" stroke="#000" stroke-width="1.6"/>
<line x1="385.0" y1="360.0" x2="385.0" y2="361.2" stroke="#000" stroke-width="1.6"/>
<line x1="380.2" y1="360.0" x2="389.8" y2="360.0" stroke="#000" stroke-width="1.5"/>
<rect x="375.7" y="360.7" width="18.600000000000023" height="71.90000000000003" fill="#000"/>
<line x1="410.5" y1="368.0" x2="410.5" y2="372.2" stroke="#000" stroke-width="1.6"/>
<line x1="405.7" y1="368.0" x2="415.3" y2="368.0" stroke="#000" stroke-width="1.5"/>
<rect x="402.0" y="372.5" width="17.099999999999987" height="60.10000000000004" fill="#fff" stroke="#000" stroke-width="1.6"/>
<line x1="436.2" y1="353.0" x2="436.2" y2="358.6" stroke="#000" stroke-width="1.6"/>
<line x1="431.2" y1="353.0" x2="441.2" y2="353.0" stroke="#000" stroke-width="1.5"/>
<rect x="427.8" y="358.90000000000003" width="17.20000000000001" height="73.7" fill="#505050" stroke="#000" stroke-width="1.6"/>
<line x1="462.0" y1="346.0" x2="462.0" y2="355.0" stroke="#000" stroke-width="1.6"/>
<line x1="457.0" y1="346.0" x2="467.0" y2="346.0" stroke="#000" stroke-width="1.5"/>
<rect x="452.5" y="354.5" width="19.0" height="78.10000000000002" fill="#000"/>
<line x1="487.5" y1="356.5" x2="487.5" y2="360.0" stroke="#000" stroke-width="1.6"/>
<line x1="483.0" y1="356.5" x2="492.0" y2="356.5" stroke="#000" stroke-width="1.5"/>
<rect x="479.1" y="360.3" width="17.099999999999987" height="72.30000000000003" fill="#fff" stroke="#000" stroke-width="1.6"/>
<path d="M411.20 363.40L411.20 361.40M411.20 363.40L413.10 362.78M411.20 363.40L412.38 365.02M411.20 363.40L410.02 365.02M411.20 363.40L409.30 362.78" stroke="#000" stroke-width="1.15" stroke-linecap="round" fill="none"/>
<text x="477.5" y="335.8" font-size="5.6" font-weight="bold" text-anchor="middle" stroke="#000" stroke-width="0.55" >NS</text>
<line x1="460.2" y1="340.3" x2="492.0" y2="340.3" stroke="#000" stroke-width="1.6"/>
<text x="0" y="0" font-size="6.9" font-weight="bold" text-anchor="end" stroke="#000" stroke-width="0.55" transform="translate(60.7 441.6) rotate(-45)">SA</text>
<text x="0" y="0" font-size="6.9" font-weight="bold" text-anchor="end" stroke="#000" stroke-width="0.55" transform="translate(99.2 441.6) rotate(-45)">FLU/SA</text>
<text x="0" y="0" font-size="6.9" font-weight="bold" text-anchor="end" stroke="#000" stroke-width="0.55" transform="translate(138.2 441.6) rotate(-45)">SA</text>
<text x="0" y="0" font-size="6.9" font-weight="bold" text-anchor="end" stroke="#000" stroke-width="0.55" transform="translate(176.2 441.6) rotate(-45)">FLU/SA</text>
<text x="0" y="0" font-size="6.9" font-weight="bold" text-anchor="end" stroke="#000" stroke-width="0.55" transform="translate(360.7 441.6) rotate(-45)">Control</text>
<text x="0" y="0" font-size="6.9" font-weight="bold" text-anchor="end" stroke="#000" stroke-width="0.55" transform="translate(386.2 441.6) rotate(-45)">SA</text>
<text x="0" y="0" font-size="6.9" font-weight="bold" text-anchor="end" stroke="#000" stroke-width="0.55" transform="translate(411.7 441.6) rotate(-45)">FLU/SA</text>
<text x="0" y="0" font-size="6.9" font-weight="bold" text-anchor="end" stroke="#000" stroke-width="0.55" transform="translate(438.2 441.6) rotate(-45)">Control</text>
<text x="0" y="0" font-size="6.9" font-weight="bold" text-anchor="end" stroke="#000" stroke-width="0.55" transform="translate(463.7 441.6) rotate(-45)">SA</text>
<text x="0" y="0" font-size="6.9" font-weight="bold" text-anchor="end" stroke="#000" stroke-width="0.55" transform="translate(489.5 441.6) rotate(-45)">FLU/SA</text>
<line x1="41.5" y1="464.3" x2="97.5" y2="464.3" stroke="#000" stroke-width="1.8"/>
<line x1="41.5" y1="460.8" x2="41.5" y2="467.8" stroke="#000" stroke-width="1.8"/>
<line x1="97.5" y1="460.8" x2="97.5" y2="467.8" stroke="#000" stroke-width="1.8"/>
<line x1="111.5" y1="464.3" x2="183.7" y2="464.3" stroke="#000" stroke-width="1.8"/>
<line x1="111.5" y1="460.8" x2="111.5" y2="467.8" stroke="#000" stroke-width="1.8"/>
<line x1="183.7" y1="460.8" x2="183.7" y2="467.8" stroke="#000" stroke-width="1.8"/>
<line x1="348.3" y1="463.2" x2="404.3" y2="463.2" stroke="#000" stroke-width="1.8"/>
<line x1="348.3" y1="459.7" x2="348.3" y2="466.7" stroke="#000" stroke-width="1.8"/>
<line x1="404.3" y1="459.7" x2="404.3" y2="466.7" stroke="#000" stroke-width="1.8"/>
<line x1="418.2" y1="463.2" x2="490" y2="463.2" stroke="#000" stroke-width="1.8"/>
<line x1="418.2" y1="459.7" x2="418.2" y2="466.7" stroke="#000" stroke-width="1.8"/>
<line x1="490" y1="459.7" x2="490" y2="466.7" stroke="#000" stroke-width="1.8"/>
<text x="73.6" y="473.4" font-size="8.6" font-weight="normal" text-anchor="middle" stroke="#000" stroke-width="0.55" >Phos NF&#954;B</text>
<text x="147.1" y="473.4" font-size="8.6" font-weight="normal" text-anchor="middle" stroke="#000" stroke-width="0.55" >Nonphos NF&#954;B</text>
<text x="380.6" y="473.2" font-size="8.6" font-weight="normal" text-anchor="middle" stroke="#000" stroke-width="0.55" >Phos NF&#954;B</text>
<text x="453.7" y="473.2" font-size="8.6" font-weight="normal" text-anchor="middle" stroke="#000" stroke-width="0.55" >Nonphos NF&#954;B</text>
</g>
</svg>
</body></html>
